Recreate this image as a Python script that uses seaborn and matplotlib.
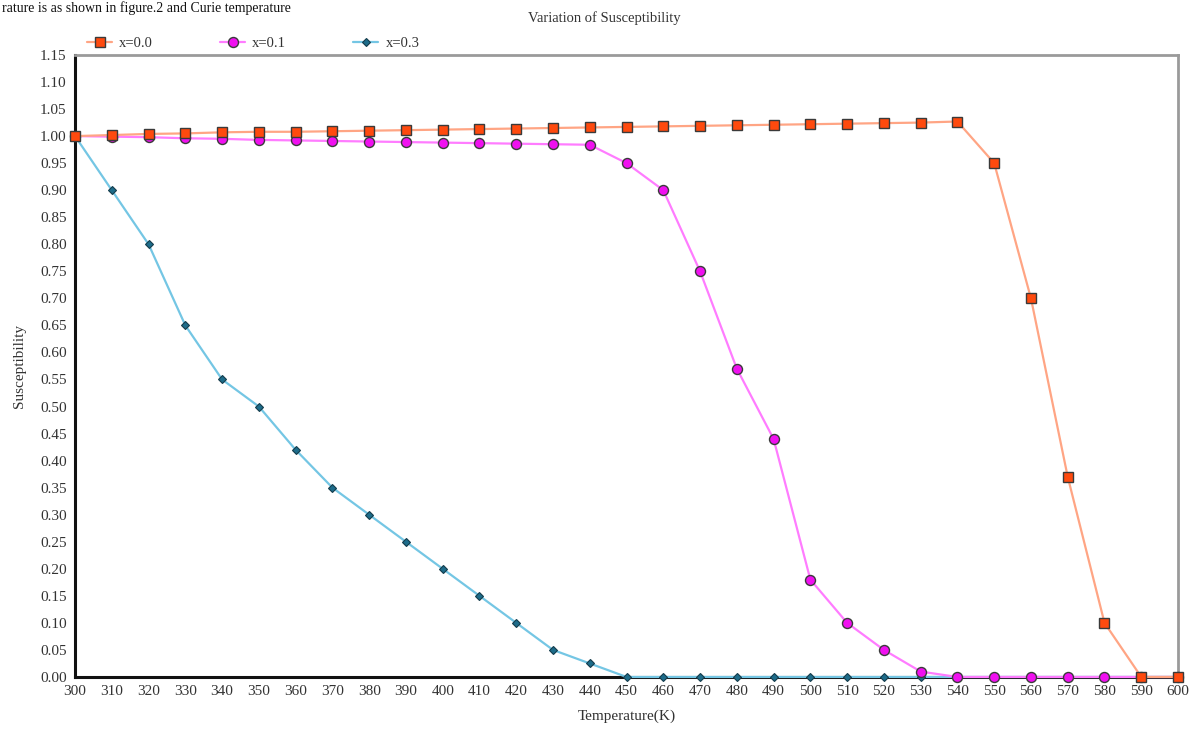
import matplotlib
matplotlib.use("Agg")
import matplotlib.pyplot as plt
import seaborn as sns
import pandas as pd

# temperatures (K)
temps = list(range(300, 610, 10))

# susceptibility values
chi_x00 = [1.000, 1.002, 1.004, 1.005, 1.007, 1.008, 1.008, 1.009, 1.010, 1.011,
           1.012, 1.013, 1.014, 1.015, 1.016, 1.017, 1.018, 1.019, 1.020, 1.021,
           1.022, 1.023, 1.024, 1.025, 1.027, 0.950, 0.700, 0.370, 0.100, 0.000, 0.000]
chi_x01 = [1.000, 0.999, 0.998, 0.996, 0.995, 0.993, 0.992, 0.991, 0.990, 0.989,
           0.988, 0.987, 0.986, 0.985, 0.984, 0.950, 0.900, 0.750, 0.570, 0.440,
           0.180, 0.100, 0.050, 0.010, 0.000, 0.000, 0.000, 0.000, 0.000, 0.000, 0.000]
chi_x03 = [1.000, 0.900, 0.800, 0.650, 0.550, 0.500, 0.420, 0.350, 0.300, 0.250,
           0.200, 0.150, 0.100, 0.050, 0.025, 0.000, 0.000, 0.000, 0.000, 0.000,
           0.000, 0.000, 0.000, 0.000, 0.000, 0.000, 0.000, 0.000, 0.000, 0.000, 0.000]

series_labels = ["x=0.0", "x=0.1", "x=0.3"]

df = pd.DataFrame({"T": temps, "x=0.0": chi_x00, "x=0.1": chi_x01, "x=0.3": chi_x03})
long_df = df.melt(id_vars="T", var_name="series", value_name="chi")

sns.set_style("white")
plt.rcParams["font.family"] = ["Liberation Serif", "DejaVu Serif"]

fig = plt.figure(figsize=(11.95, 7.36), dpi=100)
ax = fig.add_axes([0.0628, 0.0802, 0.9230, 0.8451])

styles = {
    "x=0.0": dict(color="#FFA584", marker="s", markersize=6.5, markerfacecolor="#FF4A0E",
                  markeredgecolor="#3a3a3a", markeredgewidth=1.0),
    "x=0.1": dict(color="#FF7CFF", marker="o", markersize=7.2, markerfacecolor="#F010F0",
                  markeredgecolor="#3a3a3a", markeredgewidth=1.0),
    "x=0.3": dict(color="#74C6E4", marker="D", markersize=4.5, markerfacecolor="#1D6C8A",
                  markeredgecolor="#143c4c", markeredgewidth=0.8),
}

# draw x=0.3 first so the others sit on top
for lab in ["x=0.3", "x=0.1", "x=0.0"]:
    sub = long_df[long_df["series"] == lab]
    sns.lineplot(data=sub, x="T", y="chi", ax=ax, label=lab, linewidth=1.6,
                 zorder=3, clip_on=False, **styles[lab])

ax.set_xlim(300, 600)
ax.set_ylim(0, 1.15)
ax.set_xticks(temps)
ax.set_yticks([i * 0.05 for i in range(24)])
ax.set_yticklabels([f"{i * 0.05:.2f}" for i in range(24)])
ax.tick_params(axis="both", direction="out", length=4, width=1.2, color="#333333",
               labelsize=11, labelcolor="#333333", pad=2)

for side in ["left", "bottom"]:
    ax.spines[side].set_color("#111111")
    ax.spines[side].set_linewidth(2.2)
for side in ["top", "right"]:
    ax.spines[side].set_color("#9a9a9a")
    ax.spines[side].set_linewidth(2.0)

ax.set_xlabel("Temperature(K)", fontsize=11, color="#333333", labelpad=8)
ax.set_ylabel("Susceptibility", fontsize=11, color="#333333", labelpad=10)

# legend above the plot area
handles, labels = ax.get_legend_handles_labels()
order = [labels.index(l) for l in series_labels]
ax.legend([handles[i] for i in order], series_labels, loc="lower left",
          bbox_to_anchor=(0.073, 0.932), bbox_transform=fig.transFigure, ncol=3,
          frameon=False, fontsize=10.5, columnspacing=4.6, handlelength=1.7,
          handletextpad=0.5, labelcolor="#333333", borderaxespad=0, borderpad=0)

fig.text(0.506, 0.975, "Variation of Susceptibility", ha="center", va="center",
         fontsize=10.5, color="#333333")
fig.text(0.002, 0.999, "rature is as shown in figure.2 and Curie temperature", ha="left",
         va="top", fontsize=10, color="#111111")

fig.savefig("out.png", dpi=100)
